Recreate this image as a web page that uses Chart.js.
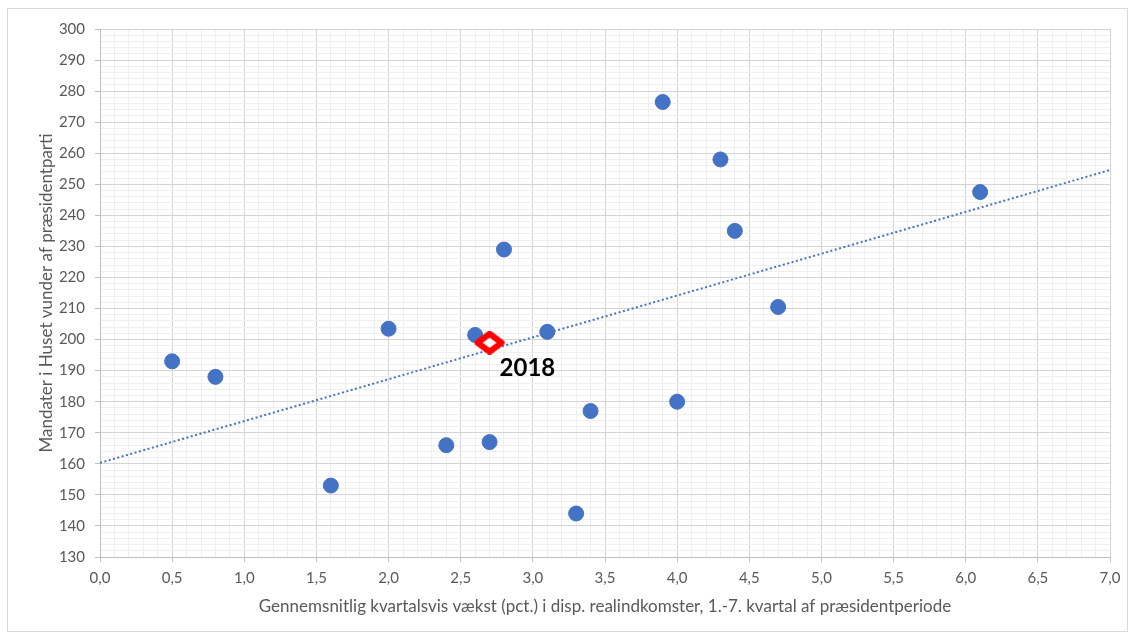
<!DOCTYPE html>
<html>
<head>
<meta charset="utf-8">
<script src="https://cdn.jsdelivr.net/npm/chart.js@4/dist/chart.umd.min.js"></script>
<style>
  html, body { margin: 0; padding: 0; background: #ffffff; }
  #wrap { position: relative; width: 1134px; height: 635px; }
  #frame { position: absolute; left: 7px; top: 8px; width: 1119px; height: 622px;
           border: 1px solid #d9d9d9; pointer-events: none; }
  canvas { position: absolute; left: 0; top: 0; }
</style>
</head>
<body>
<div id="wrap">
  <canvas id="c" width="1134" height="635"></canvas>
  <div id="frame"></div>
</div>
<script>
// Average quarterly growth in real disposable income (pct.), quarters 1-7 of the term
const growth = [0.5, 0.8, 1.6, 2.0, 2.4, 2.6, 2.7, 2.8, 3.1, 3.3, 3.4, 3.9, 4.0, 4.3, 4.4, 4.7, 6.1];
// House seats won by the president's party
const seats  = [193, 188, 153, 203.5, 166, 201.5, 167, 229, 202.5, 144, 177, 276.5, 180, 258, 235, 210.5, 247.5];

// 2018 estimate
const point2018 = { x: 2.7, y: 199 };
const label2018 = '2018';

// Linear trend line endpoints
const trendX = [0, 7];
const trendY = [160.3, 254.6];

const xTitle = 'Gennemsnitlig kvartalsvis vækst (pct.) i disp. realindkomster, 1.-7. kvartal af præsidentperiode';
const yTitle = 'Mandater i Huset vunder af præsidentparti';

const blue = '#4472C4';
const tickGray = '#595959';
const majorGrid = '#d4d4d4';
const minorGrid = '#efefef';
const fontFam = 'Lato, "Open Sans", sans-serif';

const isMultiple = (v, step) => Math.abs(v / step - Math.round(v / step)) < 1e-6;

// Flattened red diamond with a small white centre
function makeDiamond() {
  const w = 32, h = 24;
  const cv = document.createElement('canvas');
  cv.width = w; cv.height = h;
  const g = cv.getContext('2d');
  g.beginPath();
  g.moveTo(w / 2, 3);
  g.lineTo(w - 4, h / 2);
  g.lineTo(w / 2, h - 3);
  g.lineTo(4, h / 2);
  g.closePath();
  g.fillStyle = '#ffffff';
  g.fill();
  g.lineWidth = 6;
  g.lineJoin = 'round';
  g.strokeStyle = '#ff0000';
  g.stroke();
  g.beginPath();
  g.moveTo(w / 2, h / 2 - 2);
  g.lineTo(w / 2 + 3, h / 2);
  g.lineTo(w / 2, h / 2 + 2);
  g.lineTo(w / 2 - 3, h / 2);
  g.closePath();
  g.fillStyle = '#ffffff';
  g.fill();
  return cv;
}

const label2018Plugin = {
  id: 'label2018',
  afterDatasetsDraw(chart) {
    const xs = chart.scales.x, ys = chart.scales.y;
    const px = xs.getPixelForValue(point2018.x);
    const py = ys.getPixelForValue(point2018.y);
    const ctx = chart.ctx;
    ctx.save();
    ctx.font = 'bold 24px ' + fontFam;
    ctx.fillStyle = '#000000';
    ctx.textAlign = 'left';
    ctx.textBaseline = 'middle';
    ctx.fillText(label2018, px + 10, py + 26);
    ctx.restore();
  }
};

new Chart(document.getElementById('c'), {
  type: 'scatter',
  data: {
    datasets: [
      {
        type: 'line',
        data: trendX.map((x, i) => ({ x, y: trendY[i] })),
        borderColor: blue,
        borderWidth: 2,
        borderDash: [2, 2.5],
        pointRadius: 0,
        fill: false,
        order: 3
      },
      {
        data: growth.map((x, i) => ({ x, y: seats[i] })),
        backgroundColor: blue,
        borderColor: blue,
        pointRadius: 7.5,
        pointHoverRadius: 7.5,
        order: 2
      },
      {
        data: [point2018],
        pointStyle: makeDiamond(),
        pointRadius: 12,
        pointHoverRadius: 12,
        order: 1
      }
    ]
  },
  options: {
    responsive: false,
    animation: false,
    events: [],
    layout: { padding: { left: 32, right: 24, top: 29, bottom: 14 } },
    plugins: { legend: { display: false }, tooltip: { enabled: false } },
    scales: {
      x: {
        type: 'linear',
        min: 0, max: 7,
        afterFit(s) { s.height = 64; },
        ticks: {
          stepSize: 0.1,
          autoSkip: false,
          maxRotation: 0,
          padding: 7,
          color: tickGray,
          font: { family: fontFam, size: 15 },
          callback: v => isMultiple(v, 0.5) ? v.toFixed(1).replace('.', ',') : ''
        },
        grid: {
          color: c => isMultiple(c.tick.value, 0.5) ? majorGrid : minorGrid,
          tickColor: c => isMultiple(c.tick.value, 0.5) ? '#bfbfbf' : 'rgba(0,0,0,0)',
          tickLength: 5,
          lineWidth: 1
        },
        border: { color: '#bfbfbf' },
        title: {
          display: true,
          text: xTitle,
          color: tickGray,
          font: { family: fontFam, size: 17 }
        }
      },
      y: {
        type: 'linear',
        min: 130, max: 300,
        afterFit(s) { s.width = 68; },
        ticks: {
          stepSize: 2,
          autoSkip: false,
          padding: 10,
          color: tickGray,
          font: { family: fontFam, size: 15 },
          callback: v => isMultiple(v, 10) ? String(v) : ''
        },
        grid: {
          color: c => isMultiple(c.tick.value, 10) ? majorGrid : minorGrid,
          tickColor: c => isMultiple(c.tick.value, 10) ? '#bfbfbf' : 'rgba(0,0,0,0)',
          tickLength: 5,
          lineWidth: 1
        },
        border: { color: '#bfbfbf' },
        title: {
          display: true,
          text: yTitle,
          color: tickGray,
          font: { family: fontFam, size: 17 }
        }
      }
    }
  },
  plugins: [label2018Plugin]
});
</script>
</body>
</html>
